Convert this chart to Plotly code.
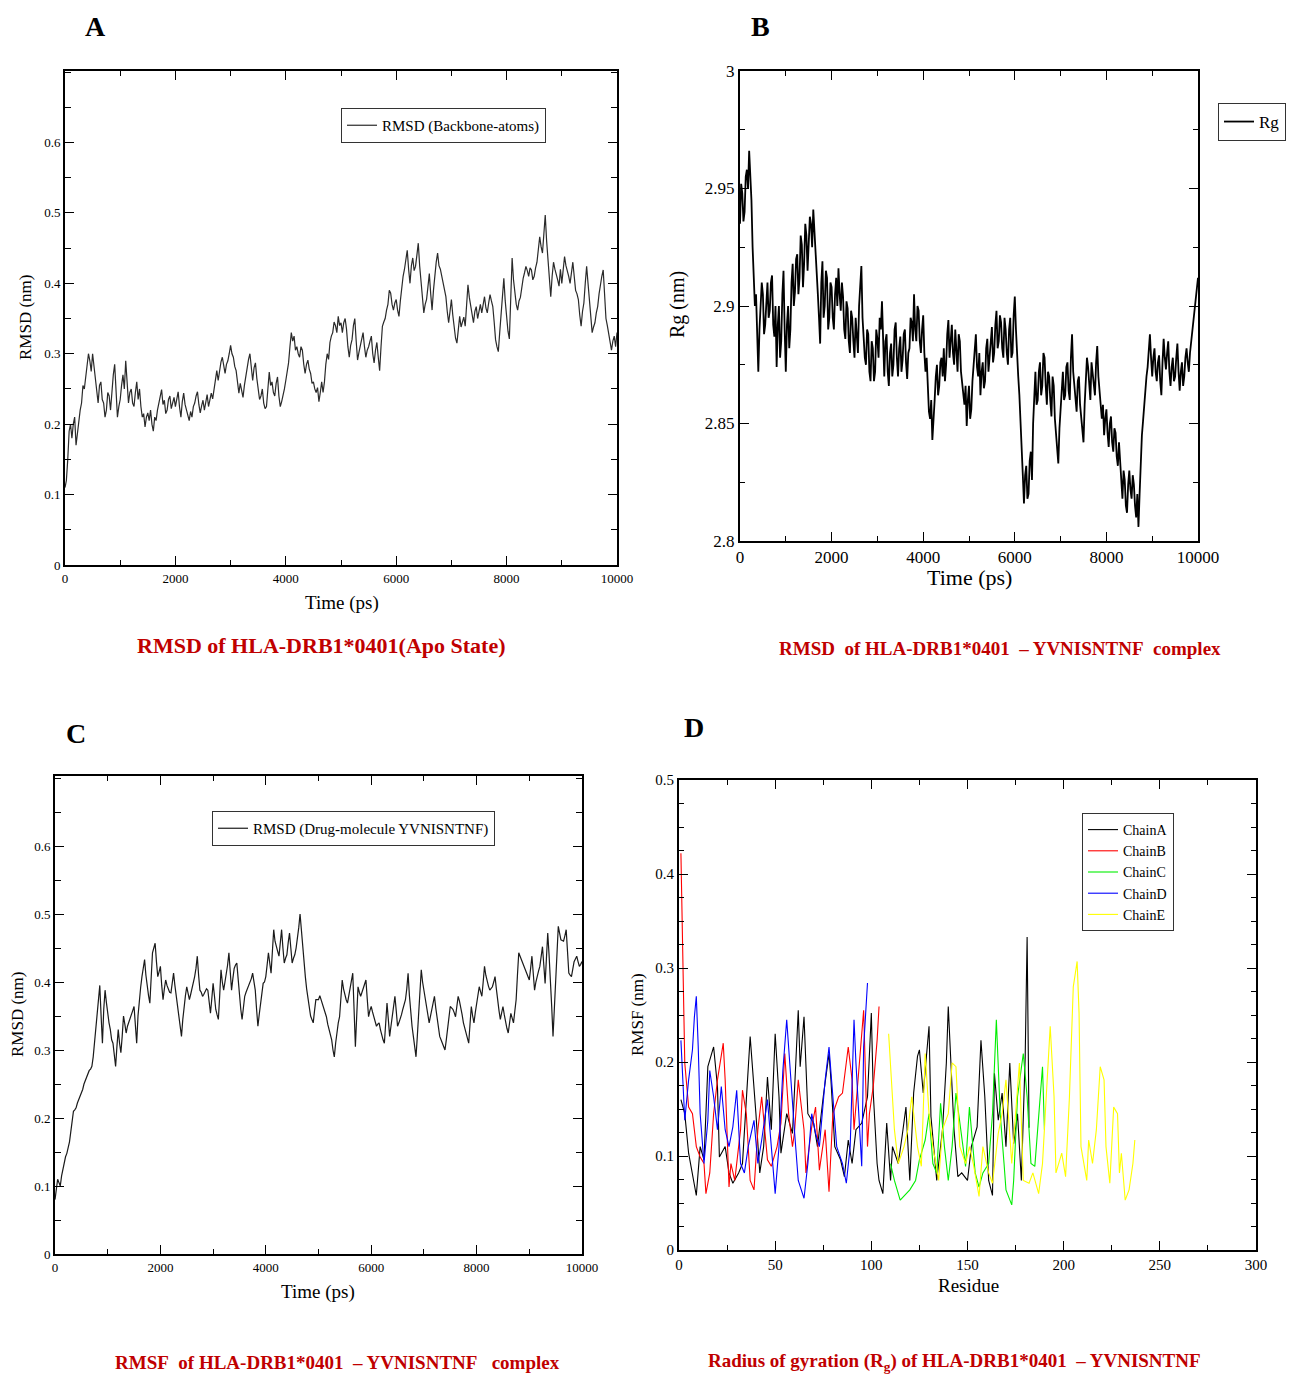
import plotly.graph_objects as go
from plotly.subplots import make_subplots

# ---------------------------------------------------------------- data
# RMSD of apo HLA-DRB1*0401 backbone (nm): frames at 0, 50, ... 10000 ps
rmsd_apo = [
    0.11, 0.15, 0.20, 0.20, 0.17, 0.20, 0.23, 0.25, 0.28, 0.29,
    0.30, 0.27, 0.23, 0.26, 0.23, 0.22, 0.24, 0.25, 0.285, 0.21,
    0.235, 0.27, 0.29, 0.23, 0.25, 0.225, 0.26, 0.25, 0.21, 0.196,
    0.216, 0.22, 0.19, 0.205, 0.23, 0.249, 0.234, 0.22, 0.24, 0.23,
    0.225, 0.246, 0.21, 0.244, 0.22, 0.205, 0.21, 0.23, 0.246, 0.216,
    0.234, 0.234, 0.225, 0.244, 0.25, 0.276, 0.276, 0.295, 0.272, 0.29,
    0.312, 0.295, 0.276, 0.244, 0.25, 0.255, 0.28, 0.30, 0.262, 0.287,
    0.25, 0.24, 0.23, 0.225, 0.274, 0.26, 0.24, 0.267, 0.225, 0.24,
    0.262, 0.287, 0.33, 0.325, 0.31, 0.295, 0.305, 0.272, 0.291, 0.272,
    0.26, 0.245, 0.232, 0.26, 0.26, 0.30, 0.316, 0.33, 0.34, 0.353,
    0.344, 0.344, 0.335, 0.295, 0.32, 0.35, 0.291, 0.31, 0.33, 0.295,
    0.31, 0.325, 0.287, 0.316, 0.276, 0.339, 0.35, 0.37, 0.386, 0.362,
    0.377, 0.353, 0.396, 0.42, 0.447, 0.40, 0.436, 0.424, 0.457, 0.40,
    0.358, 0.377, 0.414, 0.362, 0.414, 0.443, 0.42, 0.40, 0.381, 0.344,
    0.377, 0.335, 0.315, 0.353, 0.345, 0.339, 0.398, 0.367, 0.344, 0.367,
    0.358, 0.358, 0.381, 0.358, 0.384, 0.367, 0.32, 0.303, 0.36, 0.407,
    0.35, 0.321, 0.436, 0.386, 0.362, 0.38, 0.407, 0.424, 0.41, 0.419,
    0.41, 0.43, 0.466, 0.443, 0.497, 0.433, 0.381, 0.43, 0.414, 0.396,
    0.40, 0.438, 0.419, 0.40, 0.43, 0.39, 0.377, 0.339, 0.372, 0.424,
    0.38, 0.33, 0.344, 0.367, 0.40, 0.419, 0.35, 0.33, 0.305, 0.325,
    0.33,
]
# in-between frames at 25, 75, ... 9975 ps
rmsd_apo_mid = [
    0.12, 0.19, 0.18, 0.21, 0.19, 0.22, 0.255, 0.27, 0.30, 0.275,
    0.28, 0.245, 0.255, 0.235, 0.21, 0.245, 0.22, 0.27, 0.24, 0.225,
    0.255, 0.25, 0.26, 0.245, 0.23, 0.245, 0.235, 0.225, 0.215, 0.21,
    0.205, 0.2, 0.21, 0.22, 0.24, 0.228, 0.215, 0.235, 0.222, 0.238,
    0.235, 0.224, 0.232, 0.228, 0.21, 0.218, 0.225, 0.24, 0.228, 0.226,
    0.22, 0.242, 0.238, 0.236, 0.262, 0.262, 0.288, 0.28, 0.285, 0.30,
    0.30, 0.282, 0.26, 0.258, 0.238, 0.27, 0.292, 0.275, 0.28, 0.265,
    0.235, 0.25, 0.222, 0.25, 0.255, 0.245, 0.258, 0.24, 0.232, 0.25,
    0.272, 0.31, 0.318, 0.305, 0.30, 0.31, 0.285, 0.285, 0.278, 0.258,
    0.25, 0.252, 0.245, 0.245, 0.285, 0.292, 0.325, 0.345, 0.33, 0.34,
    0.33, 0.35, 0.31, 0.312, 0.34, 0.318, 0.302, 0.322, 0.31, 0.305,
    0.318, 0.30, 0.305, 0.295, 0.31, 0.345, 0.362, 0.39, 0.37, 0.372,
    0.362, 0.375, 0.41, 0.438, 0.42, 0.425, 0.418, 0.44, 0.425, 0.375,
    0.37, 0.395, 0.385, 0.39, 0.43, 0.425, 0.41, 0.39, 0.36, 0.36,
    0.355, 0.322, 0.335, 0.338, 0.352, 0.37, 0.38, 0.355, 0.36, 0.35,
    0.37, 0.368, 0.365, 0.372, 0.375, 0.345, 0.31, 0.33, 0.385, 0.375,
    0.332, 0.38, 0.405, 0.37, 0.375, 0.395, 0.415, 0.418, 0.422, 0.405,
    0.422, 0.448, 0.452, 0.47, 0.46, 0.405, 0.41, 0.42, 0.405, 0.42,
    0.422, 0.425, 0.41, 0.418, 0.41, 0.385, 0.355, 0.36, 0.40, 0.40,
    0.35, 0.338, 0.358, 0.385, 0.41, 0.385, 0.34, 0.315, 0.318, 0.31,
]

# radius of gyration of the complex (nm): frames at 0, 50, ... 10000 ps
rg_complex = [
    2.935, 2.948, 2.94, 2.958, 2.966, 2.945, 2.915, 2.905, 2.872, 2.898,
    2.905, 2.892, 2.91, 2.898, 2.913, 2.887, 2.874, 2.9, 2.885, 2.915,
    2.872, 2.9, 2.89, 2.918, 2.906, 2.922, 2.912, 2.926, 2.918, 2.93,
    2.925, 2.935, 2.941, 2.928, 2.905, 2.884, 2.919, 2.9, 2.912, 2.895,
    2.908, 2.89, 2.912, 2.916, 2.898, 2.904, 2.886, 2.899, 2.88, 2.895,
    2.878, 2.889, 2.9, 2.917, 2.885, 2.875, 2.888, 2.868, 2.882, 2.872,
    2.886, 2.895, 2.902, 2.87, 2.888, 2.866, 2.884, 2.875, 2.893, 2.87,
    2.887, 2.877, 2.89, 2.869, 2.882, 2.893, 2.905, 2.885, 2.898, 2.88,
    2.896, 2.872, 2.865, 2.852, 2.843, 2.86, 2.875, 2.866, 2.878, 2.882,
    2.875, 2.894, 2.885, 2.88, 2.89, 2.872, 2.885, 2.868, 2.858, 2.849,
    2.866, 2.856, 2.875, 2.888, 2.87, 2.862, 2.876, 2.868, 2.886, 2.878,
    2.891, 2.88, 2.898, 2.885, 2.893, 2.878, 2.89, 2.875, 2.895, 2.88,
    2.904, 2.877, 2.862, 2.835, 2.816, 2.832, 2.82, 2.838, 2.85, 2.872,
    2.86, 2.876, 2.866, 2.878, 2.858, 2.87, 2.853, 2.866, 2.845, 2.833,
    2.858, 2.872, 2.862, 2.876, 2.86, 2.888, 2.866, 2.855, 2.87, 2.852,
    2.842, 2.868, 2.874, 2.86, 2.872, 2.862, 2.883, 2.865, 2.852, 2.845,
    2.856, 2.84, 2.853, 2.838, 2.846, 2.832, 2.835, 2.818, 2.826, 2.812,
    2.83, 2.818, 2.824, 2.81, 2.806, 2.838, 2.851, 2.862, 2.874, 2.888,
    2.87, 2.882, 2.868, 2.879, 2.862, 2.886, 2.873, 2.885, 2.866, 2.878,
    2.87, 2.884, 2.864, 2.876, 2.87, 2.882, 2.872, 2.885, 2.895, 2.905,
    2.912,
]
rg_complex_mid = [
    2.952, 2.936, 2.955, 2.95, 2.955, 2.925, 2.90, 2.885, 2.89, 2.91,
    2.888, 2.905, 2.895, 2.91, 2.892, 2.90, 2.892, 2.878, 2.905, 2.89,
    2.892, 2.882, 2.91, 2.90, 2.92, 2.905, 2.93, 2.908, 2.935, 2.915,
    2.938, 2.925, 2.932, 2.915, 2.895, 2.91, 2.895, 2.915, 2.89, 2.91,
    2.895, 2.905, 2.90, 2.905, 2.91, 2.89, 2.902, 2.885, 2.898, 2.885,
    2.895, 2.88, 2.91, 2.895, 2.878, 2.89, 2.872, 2.885, 2.868, 2.89,
    2.878, 2.89, 2.882, 2.885, 2.872, 2.88, 2.87, 2.89, 2.878, 2.882,
    2.872, 2.888, 2.876, 2.88, 2.895, 2.885, 2.89, 2.90, 2.885, 2.89,
    2.88, 2.878, 2.855, 2.86, 2.855, 2.87, 2.862, 2.876, 2.87, 2.868,
    2.888, 2.878, 2.892, 2.875, 2.878, 2.888, 2.872, 2.862, 2.866, 2.86,
    2.852, 2.868, 2.882, 2.874, 2.88, 2.872, 2.865, 2.882, 2.872, 2.888,
    2.876, 2.892, 2.882, 2.896, 2.882, 2.895, 2.88, 2.89, 2.878, 2.896,
    2.89, 2.87, 2.848, 2.828, 2.828, 2.818, 2.834, 2.826, 2.866, 2.858,
    2.872, 2.862, 2.88, 2.866, 2.872, 2.86, 2.87, 2.852, 2.838, 2.848,
    2.868, 2.86, 2.874, 2.864, 2.878, 2.872, 2.86, 2.868, 2.858, 2.848,
    2.858, 2.878, 2.864, 2.876, 2.866, 2.876, 2.87, 2.858, 2.858, 2.852,
    2.846, 2.85, 2.842, 2.848, 2.836, 2.842, 2.824, 2.83, 2.815, 2.824,
    2.822, 2.828, 2.815, 2.82, 2.82, 2.845, 2.858, 2.87, 2.882, 2.878,
    2.878, 2.872, 2.876, 2.868, 2.876, 2.878, 2.88, 2.872, 2.874, 2.868,
    2.878, 2.872, 2.872, 2.866, 2.878, 2.876, 2.88, 2.89, 2.90, 2.908,
]

# RMSD of the peptide YVNISNTNF (nm): frames at 0, 50, ... 10000 ps
rmsd_drug = [
    0.08, 0.11, 0.10, 0.125, 0.143, 0.155, 0.18, 0.21, 0.215, 0.227,
    0.236, 0.25, 0.262, 0.27, 0.276, 0.31, 0.36, 0.395, 0.31, 0.388,
    0.35, 0.33, 0.31, 0.276, 0.33, 0.296, 0.35, 0.325, 0.34, 0.35,
    0.364, 0.31, 0.374, 0.408, 0.433, 0.39, 0.369, 0.443, 0.457, 0.408,
    0.423, 0.374, 0.403, 0.39, 0.384, 0.413, 0.379, 0.35, 0.32, 0.369,
    0.393, 0.374, 0.39, 0.408, 0.438, 0.388, 0.379, 0.385, 0.388, 0.354,
    0.398, 0.36, 0.345, 0.418, 0.388, 0.41, 0.443, 0.388, 0.42, 0.428,
    0.379, 0.345, 0.379, 0.39, 0.398, 0.413, 0.388, 0.335, 0.37, 0.398,
    0.408, 0.443, 0.413, 0.477, 0.45, 0.438, 0.477, 0.428, 0.44, 0.472,
    0.428, 0.44, 0.462, 0.50, 0.452, 0.408, 0.374, 0.35, 0.34, 0.374,
    0.374, 0.374, 0.36, 0.349, 0.33, 0.315, 0.29, 0.33, 0.349, 0.403,
    0.38, 0.369, 0.39, 0.413, 0.305, 0.393, 0.379, 0.39, 0.403, 0.349,
    0.364, 0.35, 0.335, 0.34, 0.32, 0.31, 0.369, 0.32, 0.35, 0.379,
    0.335, 0.345, 0.36, 0.374, 0.413, 0.349, 0.32, 0.29, 0.349, 0.418,
    0.388, 0.36, 0.34, 0.359, 0.379, 0.345, 0.32, 0.31, 0.30, 0.33,
    0.364, 0.36, 0.349, 0.379, 0.364, 0.34, 0.325, 0.31, 0.364, 0.34,
    0.37, 0.393, 0.379, 0.423, 0.40, 0.388, 0.393, 0.408, 0.37, 0.345,
    0.364, 0.34, 0.325, 0.354, 0.34, 0.374, 0.443, 0.433, 0.42, 0.413,
    0.403, 0.438, 0.388, 0.41, 0.423, 0.452, 0.398, 0.472, 0.408, 0.32,
    0.408, 0.482, 0.462, 0.46, 0.477, 0.413, 0.408, 0.43, 0.438, 0.423,
    0.43,
]
rmsd_drug_mid = [
    0.10, 0.105, 0.115, 0.135, 0.148, 0.165, 0.20, 0.212, 0.222, 0.23,
    0.242, 0.255, 0.268, 0.272, 0.29, 0.34, 0.38, 0.35, 0.36, 0.37,
    0.34, 0.315, 0.29, 0.305, 0.31, 0.32, 0.338, 0.335, 0.345, 0.358,
    0.335, 0.35, 0.392, 0.42, 0.41, 0.38, 0.41, 0.45, 0.43, 0.415,
    0.395, 0.39, 0.395, 0.385, 0.40, 0.395, 0.365, 0.338, 0.345, 0.38,
    0.382, 0.382, 0.40, 0.42, 0.41, 0.385, 0.382, 0.39, 0.37, 0.375,
    0.38, 0.352, 0.38, 0.40, 0.40, 0.425, 0.41, 0.405, 0.425, 0.405,
    0.36, 0.362, 0.385, 0.392, 0.405, 0.40, 0.36, 0.352, 0.385, 0.40,
    0.425, 0.428, 0.445, 0.46, 0.445, 0.458, 0.45, 0.435, 0.458, 0.45,
    0.435, 0.45, 0.48, 0.475, 0.43, 0.39, 0.36, 0.345, 0.358, 0.374,
    0.38, 0.365, 0.355, 0.338, 0.322, 0.30, 0.31, 0.34, 0.375, 0.39,
    0.374, 0.38, 0.40, 0.36, 0.35, 0.385, 0.385, 0.395, 0.375, 0.358,
    0.356, 0.342, 0.338, 0.33, 0.315, 0.34, 0.345, 0.335, 0.365, 0.358,
    0.34, 0.352, 0.368, 0.39, 0.38, 0.335, 0.305, 0.32, 0.385, 0.40,
    0.374, 0.35, 0.35, 0.37, 0.362, 0.332, 0.315, 0.305, 0.315, 0.345,
    0.362, 0.355, 0.364, 0.372, 0.352, 0.332, 0.318, 0.338, 0.35, 0.355,
    0.382, 0.386, 0.40, 0.41, 0.394, 0.39, 0.40, 0.39, 0.358, 0.355,
    0.352, 0.332, 0.34, 0.347, 0.357, 0.41, 0.438, 0.426, 0.416, 0.408,
    0.42, 0.413, 0.40, 0.416, 0.437, 0.425, 0.435, 0.44, 0.364, 0.364,
    0.445, 0.472, 0.461, 0.468, 0.445, 0.41, 0.419, 0.434, 0.43, 0.426,
]

# RMSF per residue for each chain (nm)
resA = [1, 3, 5, 7, 9, 11, 13, 15, 18, 20, 21, 24, 26, 28, 31, 33, 35, 37, 40, 42,
        44, 46, 48, 50, 52, 53, 56, 59, 62, 63, 65, 67, 70, 72, 75, 78, 79, 81, 84, 86,
        88, 90, 92, 95, 98, 100, 101, 103, 104, 106, 108, 110, 111, 114, 116, 118, 120, 122, 124, 125,
        127, 130, 131, 134, 137, 139, 140, 141, 143, 145, 147, 150, 152, 155, 157, 159, 161, 163, 164, 166,
        168, 170, 172, 174, 176, 178, 180, 181, 182]
rmsfA = [0.16, 0.145, 0.103, 0.082, 0.058, 0.11, 0.096, 0.195, 0.216, 0.174, 0.099, 0.11, 0.082, 0.071, 0.082, 0.092, 0.163, 0.227, 0.145, 0.082,
         0.11, 0.184, 0.128, 0.23, 0.163, 0.103, 0.145, 0.124, 0.255, 0.195, 0.248, 0.145, 0.135, 0.11, 0.163, 0.209, 0.181, 0.11, 0.096, 0.078,
         0.117, 0.092, 0.128, 0.135, 0.163, 0.252, 0.167, 0.092, 0.074, 0.06, 0.135, 0.074, 0.11, 0.092, 0.121, 0.152, 0.074, 0.167, 0.206, 0.213,
         0.167, 0.238, 0.142, 0.074, 0.128, 0.199, 0.259, 0.216, 0.128, 0.078, 0.082, 0.074, 0.11, 0.131, 0.223, 0.163, 0.074, 0.058, 0.188, 0.138,
         0.167, 0.11, 0.199, 0.113, 0.145, 0.074, 0.206, 0.333, 0.13]

resB = [1, 2, 3, 5, 7, 9, 11, 13, 14, 16, 18, 20, 23, 24, 26, 27, 29, 32, 33, 35,
        37, 39, 41, 43, 46, 48, 51, 53, 55, 57, 59, 60, 62, 65, 66, 69, 71, 73, 76, 78,
        80, 83, 85, 88, 90, 91, 94, 96, 98, 99, 101, 103, 104]
rmsfB = [0.422, 0.32, 0.199, 0.152, 0.145, 0.11, 0.099, 0.092, 0.06, 0.082, 0.145, 0.181, 0.22, 0.181, 0.067, 0.092, 0.074, 0.128, 0.17, 0.145,
         0.074, 0.064, 0.128, 0.163, 0.096, 0.089, 0.11, 0.135, 0.209, 0.145, 0.11, 0.124, 0.181, 0.128, 0.082, 0.131, 0.152, 0.085, 0.128, 0.062,
         0.145, 0.163, 0.167, 0.216, 0.181, 0.128, 0.209, 0.255, 0.11, 0.145, 0.174, 0.223, 0.259]

resC = [110, 112, 115, 117, 120, 123, 125, 128, 130, 132, 134, 136, 138, 140, 142, 144, 147, 149, 151, 154,
        156, 158, 161, 163, 165, 167, 169, 170, 173, 174, 176, 179, 181, 183, 185, 187, 189, 190]
rmsfC = [0.092, 0.074, 0.053, 0.057, 0.064, 0.074, 0.096, 0.117, 0.145, 0.092, 0.082, 0.156, 0.11, 0.074, 0.11, 0.167, 0.117, 0.089, 0.152, 0.082,
         0.067, 0.082, 0.092, 0.145, 0.245, 0.145, 0.092, 0.064, 0.048, 0.074, 0.163, 0.209, 0.163, 0.092, 0.089, 0.145, 0.195, 0.128]

resD = [1, 3, 5, 7, 8, 9, 10, 11, 13, 15, 16, 18, 20, 22, 24, 26, 28, 30, 32, 34,
        36, 39, 41, 43, 46, 48, 50, 52, 54, 56, 58, 60, 62, 65, 67, 69, 71, 73, 76, 78,
        80, 82, 85, 87, 89, 91, 92, 95, 96, 98]
rmsfD = [0.223, 0.138, 0.181, 0.213, 0.248, 0.27, 0.216, 0.145, 0.092, 0.138, 0.191, 0.163, 0.128, 0.174, 0.128, 0.11, 0.131, 0.17, 0.092, 0.082,
         0.11, 0.138, 0.092, 0.117, 0.16, 0.11, 0.06, 0.11, 0.191, 0.245, 0.181, 0.128, 0.074, 0.055, 0.092, 0.145, 0.124, 0.11, 0.181, 0.216,
         0.163, 0.11, 0.092, 0.071, 0.11, 0.245, 0.199, 0.089, 0.216, 0.284]

resE = [109, 110, 112, 114, 117, 119, 121, 124, 126, 128, 130, 132, 135, 137, 140, 142, 144, 146, 149, 151,
        153, 156, 158, 161, 163, 166, 168, 170, 173, 175, 177, 179, 182, 184, 187, 189, 191, 193, 195, 196,
        199, 201, 203, 205, 207, 208, 209, 212, 213, 215, 217, 219, 221, 222, 224, 226, 228, 229, 230, 232,
        234, 236, 237]
rmsfE = [0.23, 0.199, 0.128, 0.092, 0.11, 0.128, 0.163, 0.11, 0.089, 0.209, 0.145, 0.11, 0.074, 0.128, 0.145, 0.199, 0.195, 0.11, 0.092, 0.11,
         0.092, 0.057, 0.11, 0.082, 0.071, 0.124, 0.145, 0.181, 0.092, 0.145, 0.199, 0.074, 0.071, 0.082, 0.06, 0.092, 0.163, 0.238, 0.163, 0.082,
         0.103, 0.078, 0.163, 0.28, 0.307, 0.252, 0.11, 0.074, 0.117, 0.092, 0.128, 0.195, 0.181, 0.11, 0.071, 0.152, 0.145, 0.082, 0.103, 0.053,
         0.064, 0.092, 0.117]

chains = ["ChainA", "ChainB", "ChainC", "ChainD", "ChainE"]
chain_colors = ["#000000", "#ff0000", "#00ee00", "#0000ff", "#ffff00"]


def merge_frames(main, mid):
    # interleave the 50 ps frames with the in-between 25 ps frames
    out = []
    for a, b in zip(main, mid):
        out += [a, b]
    out.append(main[-1])
    return out


rmsd_apo_all = merge_frames(rmsd_apo, rmsd_apo_mid)
rg_all = merge_frames(rg_complex, rg_complex_mid)
rmsd_drug_all = merge_frames(rmsd_drug, rmsd_drug_mid)
time_apo = [25 * i for i in range(len(rmsd_apo_all))]
time_rg = [25 * i for i in range(len(rg_all))]
time_drug = [25 * i for i in range(len(rmsd_drug_all))]

# ---------------------------------------------------------------- layout helpers
W, H = 1292, 1374
SERIF = "Liberation Serif, Times New Roman, serif"
RED = "#c00000"


def fx(p):
    return p / W


def fy(p):
    return 1 - p / H


fig = make_subplots(rows=2, cols=2)

fig.add_trace(go.Scatter(x=time_apo, y=rmsd_apo_all, mode="lines", name="RMSD (Backbone-atoms)",
                         line=dict(color="#2a2a2a", width=1.2), legend="legend"), row=1, col=1)
fig.add_trace(go.Scatter(x=time_rg, y=rg_all, mode="lines", name="Rg",
                         line=dict(color="#000000", width=1.8), legend="legend2"), row=1, col=2)
fig.add_trace(go.Scatter(x=time_drug, y=rmsd_drug_all, mode="lines", name="RMSD (Drug-molecule YVNISNTNF)",
                         line=dict(color="#1a1a1a", width=1.2), legend="legend3"), row=2, col=1)

for name, col, xs, ys in zip(chains, chain_colors,
                             [resA, resB, resC, resD, resE],
                             [rmsfA, rmsfB, rmsfC, rmsfD, rmsfE]):
    fig.add_trace(go.Scatter(x=xs, y=ys, mode="lines", name=name,
                             line=dict(color=col, width=1.1), legend="legend4"), row=2, col=2)


def axis_style(tick_size, **kw):
    d = dict(showline=True, linewidth=2, linecolor="black", mirror="ticks",
             ticks="inside", ticklen=9, tickwidth=1, tickcolor="black",
             showgrid=False, zeroline=False, tickformat="d", automargin=False,
             tickfont=dict(family=SERIF, size=tick_size, color="black"))
    d.update(kw)
    return d


# panel A
fig.update_layout(
    xaxis=axis_style(13, domain=[fx(65), fx(617)], range=[0, 10000], dtick=2000,
                     minor=dict(dtick=1000, ticks="inside", ticklen=5, tickcolor="black")),
    yaxis=axis_style(13, domain=[fy(565), fy(71)], range=[0, 0.7015], tickformat="",
                     tickvals=[0, 0.1, 0.2, 0.3, 0.4, 0.5, 0.6],
                     minor=dict(dtick=0.05, ticks="inside", ticklen=6, tickcolor="black")),
    # panel B
    xaxis2=axis_style(17, domain=[fx(740), fx(1198)], range=[0, 10000], dtick=2000,
                      minor=dict(dtick=1000, ticks="inside", ticklen=5, tickcolor="black")),
    yaxis2=axis_style(17, domain=[fy(541), fy(71)], range=[2.8, 3.0], dtick=0.05, tickformat="",
                      minor=dict(dtick=0.025, ticks="inside", ticklen=5, tickcolor="black")),
    # panel C
    xaxis3=axis_style(13, domain=[fx(55), fx(582)], range=[0, 10000], dtick=2000,
                      minor=dict(dtick=1000, ticks="inside", ticklen=5, tickcolor="black")),
    yaxis3=axis_style(13, domain=[fy(1254), fy(776)], range=[0, 0.703], tickformat="",
                      tickvals=[0, 0.1, 0.2, 0.3, 0.4, 0.5, 0.6],
                      minor=dict(dtick=0.05, ticks="inside", ticklen=6, tickcolor="black")),
    # panel D
    xaxis4=axis_style(15, domain=[fx(679), fx(1256)], range=[0, 300], dtick=50,
                      minor=dict(dtick=25, ticks="inside", ticklen=5, tickcolor="black")),
    yaxis4=axis_style(15, domain=[fy(1250), fy(780)], range=[0, 0.5], dtick=0.1, tickformat="",
                      minor=dict(dtick=0.025, ticks="inside", ticklen=5, tickcolor="black")),
)

legend_common = dict(bgcolor="white", bordercolor="#333333", borderwidth=1,
                     xanchor="left", yanchor="top", tracegroupgap=0)
fig.update_layout(
    width=W, height=H, margin=dict(l=0, r=0, t=0, b=0, autoexpand=False),
    paper_bgcolor="white", plot_bgcolor="white",
    showlegend=True,
    legend=dict(x=fx(341), y=fy(108), font=dict(family=SERIF, size=15, color="black"), **legend_common),
    legend2=dict(x=fx(1218), y=fy(103), font=dict(family=SERIF, size=17, color="black"), **legend_common),
    legend3=dict(x=fx(212), y=fy(811), font=dict(family=SERIF, size=15, color="black"), **legend_common),
    legend4=dict(x=fx(1082), y=fy(813), font=dict(family=SERIF, size=14, color="black"), **legend_common),
)

# ---------------------------------------------------------------- text
texts = [
    # (text, x px, y px, size, bold, color, angle)
    ("A", 95, 27, 28, True, "black", 0),
    ("B", 760, 27, 28, True, "black", 0),
    ("C", 76, 733, 28, True, "black", 0),
    ("D", 694, 727, 28, True, "black", 0),
    ("Time (ps)", 342, 603, 19, False, "black", 0),
    ("RMSD (nm)", 25, 318, 17, False, "black", -90),
    ("Time (ps)", 969, 577, 22, False, "black", 0),
    ("Rg (nm)", 677, 305, 20, False, "black", -90),
    ("Time (ps)", 318, 1292, 19, False, "black", 0),
    ("RMSD (nm)", 17, 1015, 17, False, "black", -90),
    ("Residue", 968, 1285, 19, False, "black", 0),
    ("RMSF (nm)", 637, 1015, 17, False, "black", -90),
    ("RMSD of HLA-DRB1*0401(Apo State)", 321, 645, 22, True, RED, 0),
    ("RMSD\u00a0 of HLA-DRB1*0401\u00a0 \u2013 YVNISNTNF\u00a0 complex", 1000, 648, 19, True, RED, 0),
    ("RMSF\u00a0 of HLA-DRB1*0401\u00a0 \u2013 YVNISNTNF\u00a0\u00a0 complex", 337, 1362, 19, True, RED, 0),
    ("Radius of gyration (R<sub>g</sub>) of HLA-DRB1*0401\u00a0 \u2013 YVNISNTNF", 954, 1362, 19, True, RED, 0),
]
for txt, x, y, size, bold, color, angle in texts:
    fig.add_annotation(text="<b>%s</b>" % txt if bold else txt,
                       x=fx(x), y=fy(y), xref="paper", yref="paper",
                       xanchor="center", yanchor="middle", showarrow=False,
                       textangle=angle, font=dict(family=SERIF, size=size, color=color))

# drop the default page margin so the figure sits at the window origin
fig.write_html("out.html", config={"displayModeBar": False},
               post_script="document.body.style.margin='0';document.body.style.overflow='hidden';")
